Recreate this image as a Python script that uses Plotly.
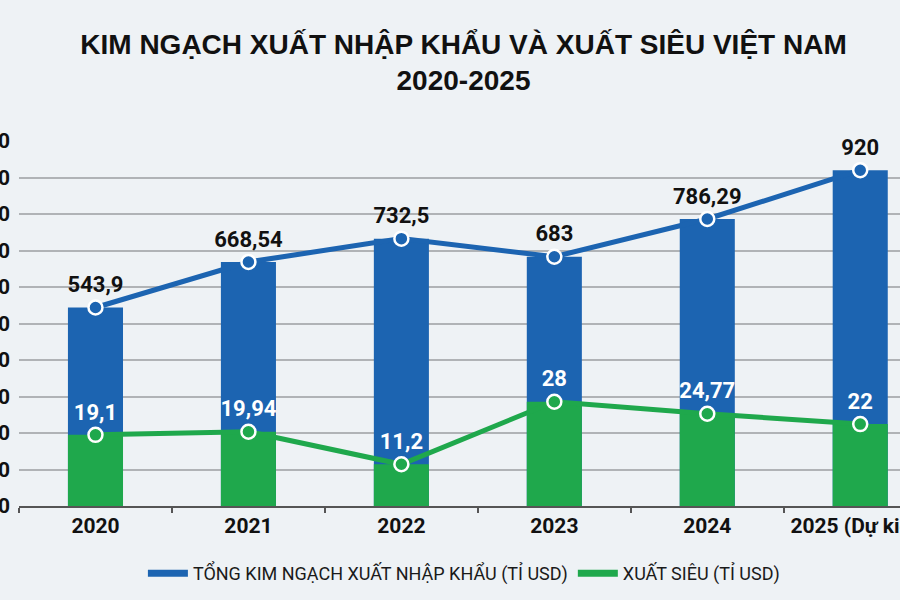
import plotly.graph_objects as go

years = ["2020", "2021", "2022", "2023", "2024", "2025 (Dự kiến)"]
total = [543.9, 668.54, 732.5, 683, 786.29, 920]
surplus = [19.1, 19.94, 11.2, 28, 24.77, 22]
total_labels = ["543,9", "668,54", "732,5", "683", "786,29", "920"]
surplus_labels = ["19,1", "19,94", "11,2", "28", "24,77", "22"]
y_ticks = [0, 100, 200, 300, 400, 500, 600, 700, 800, 900, 1000]

BLUE = "#1c64b1"
GREEN = "#1fa84c"
BG = "#eef2f5"
NARROW = "Roboto, Liberation Sans, sans-serif"

fig = go.Figure()

fig.add_trace(go.Bar(x=years, y=total, marker=dict(color=BLUE, line=dict(width=0)),
                     width=0.36, showlegend=False, hoverinfo="skip"))
fig.add_trace(go.Scatter(x=years, y=total, mode="lines+markers+text",
                         text=total_labels, textposition="top center",
                         textfont=dict(family=NARROW, size=22, color="#111111", weight="bold"),
                         line=dict(color=BLUE, width=5),
                         marker=dict(size=14, color=BLUE, line=dict(color="white", width=2.5)),
                         showlegend=False, cliponaxis=False))

fig.add_trace(go.Bar(x=years, y=surplus, yaxis="y2", marker=dict(color=GREEN, line=dict(width=0)),
                     width=0.36, showlegend=False, hoverinfo="skip"))
fig.add_trace(go.Scatter(x=years, y=surplus, yaxis="y2", mode="lines+markers+text",
                         text=surplus_labels, textposition="top center",
                         textfont=dict(family=NARROW, size=22, color="white", weight="bold"),
                         line=dict(color=GREEN, width=5),
                         marker=dict(size=14, color=GREEN, line=dict(color="white", width=2.5)),
                         showlegend=False, cliponaxis=False))

# legend entries
fig.add_trace(go.Scatter(x=[None], y=[None], mode="lines", line=dict(color=BLUE, width=7),
                         name="TỔNG KIM NGẠCH XUẤT NHẬP KHẨU (TỈ USD)"))
fig.add_trace(go.Scatter(x=[None], y=[None], mode="lines", line=dict(color=GREEN, width=7),
                         name="XUẤT SIÊU (TỈ USD)"))

fig.update_layout(
    width=900, height=600,
    paper_bgcolor=BG, plot_bgcolor=BG,
    margin=dict(l=19, r=0, t=141, b=94, autoexpand=False),
    barmode="overlay",
    title=dict(text="<b>KIM NGẠCH XUẤT NHẬP KHẨU VÀ XUẤT SIÊU VIỆT NAM<br>2020-2025</b>",
               x=0.515, xanchor="center", y=1 - 54 / 600, yanchor="middle",
               font=dict(family="Liberation Sans, Arial, sans-serif", size=28, color="#111111")),
    xaxis=dict(type="category", range=[-0.5, 5.26], showgrid=False,
               showline=True, linecolor="#555555", linewidth=1.5,
               ticks="outside", tickson="boundaries", ticklen=5, tickcolor="#555555", tickwidth=1.5,
               tickangle=0,
               tickfont=dict(family=NARROW, size=21, color="#111111", weight="bold"),
               automargin=False, fixedrange=True),
    yaxis=dict(range=[0, 1000], tickvals=y_ticks, showgrid=True, gridcolor="#b0b3b6", gridwidth=1.5,
               zeroline=False, ticks="", ticklabelstandoff=8,
               tickfont=dict(family=NARROW, size=21, color="#111111", weight="bold"),
               automargin=False),
    yaxis2=dict(range=[0, 98], overlaying="y", side="right", showgrid=False, zeroline=False,
                showticklabels=False, ticks="", automargin=False),
    legend=dict(orientation="h", x=0.505, xanchor="center", y=-0.185, yanchor="middle",
                font=dict(family=NARROW, size=18, color="#1a1a1a"),
                bgcolor="rgba(0,0,0,0)", itemwidth=40),
    showlegend=True,
)

fig.write_html("out.html", post_script="document.body.style.margin='0';",
               config={"displayModeBar": False})
